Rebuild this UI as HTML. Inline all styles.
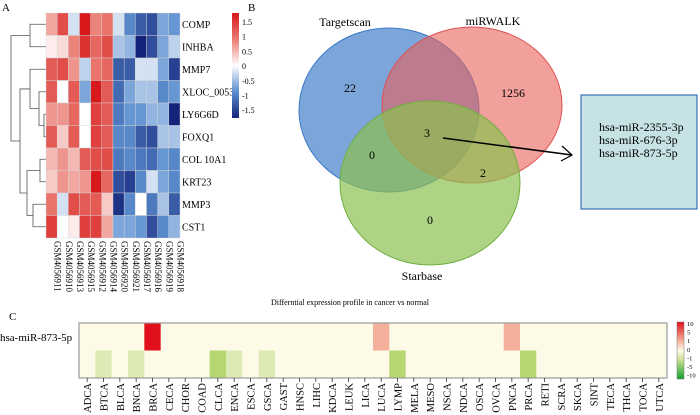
<!DOCTYPE html>
<html><head><meta charset="utf-8">
<style>
html,body{margin:0;padding:0;background:#fff;}
svg{display:block;font-family:"Liberation Serif",serif;}
</style></head>
<body>
<svg id="fig" width="700" height="415" viewBox="0 0 700 415">
<defs>
<linearGradient id="gA" x1="0" y1="0" x2="0" y2="1">
<stop offset="0" stop-color="#d7191c"/><stop offset="0.25" stop-color="#ea7a70"/><stop offset="0.5" stop-color="#ffffff"/><stop offset="0.75" stop-color="#5b8fd0"/><stop offset="1" stop-color="#14237a"/>
</linearGradient>
<linearGradient id="gC" x1="0" y1="0" x2="0" y2="1">
<stop offset="0" stop-color="#e0101c"/><stop offset="0.33" stop-color="#f4b09a"/><stop offset="0.5" stop-color="#fdfbe8"/><stop offset="0.67" stop-color="#c8e090"/><stop offset="1" stop-color="#10a030"/>
</linearGradient>
</defs>
<g id="panelA">
<text x="2" y="11" font-size="11">A</text>
<g id="dendro" stroke="#555" stroke-width="0.8" fill="none"></g>
<g id="cellsA"></g>
<g id="rowLabelsA"></g>
<g id="colLabelsA"></g>
<rect x="232" y="13" width="7" height="105" fill="url(#gA)"/>
<g id="scaleA" font-size="8"></g>
</g>
<g id="panelB">
<text x="248" y="11" font-size="11">B</text>
<ellipse cx="389" cy="110" rx="90" ry="82" fill="#5b8fd0" fill-opacity="0.8" stroke="#3a7ac8"/>
<ellipse cx="472" cy="105" rx="90" ry="78" fill="#e8605a" fill-opacity="0.6" stroke="#e05050"/>
<ellipse cx="430" cy="183" rx="90" ry="82" fill="#8cc050" fill-opacity="0.7" stroke="#70b040"/>
<g font-size="12" text-anchor="middle">
<text x="345" y="26">Targetscan</text>
<text x="493" y="25">miRWALK</text>
<text x="422" y="280">Starbase</text>
<text x="350" y="92">22</text>
<text x="513" y="97">1256</text>
<text x="427" y="137">3</text>
<text x="372" y="159">0</text>
<text x="483" y="177">2</text>
<text x="430" y="224">0</text>
</g>
<line x1="443" y1="138" x2="572" y2="155" stroke="#000" stroke-width="1.5"/>
<polyline points="562,146 572,155 561,161" fill="none" stroke="#000" stroke-width="1.2"/>
<rect x="581" y="95" width="116" height="114" fill="#c6e2e4" stroke="#3a70b8" stroke-width="1.2"/>
<g font-size="12">
<text x="599" y="131">hsa-miR-2355-3p</text>
<text x="599" y="144">hsa-miR-676-3p</text>
<text x="599" y="157">hsa-miR-873-5p</text>
</g>
</g>
<g id="panelC">
<text x="9" y="320" font-size="11">C</text>
<text x="350" y="305" font-size="8" text-anchor="middle">Differntial expression profile in cancer vs normal</text>
<text x="0" y="341" font-size="11">hsa-miR-873-5p</text>
<rect x="79" y="323" width="588" height="55" fill="#fdfbe8"/>
<g id="cellsC"></g>
<rect x="79" y="323" width="588" height="55" fill="none" stroke="#999" stroke-width="1.2"/>
<g id="colLabelsC" font-size="10.5"></g>
<rect x="677" y="322" width="7" height="57" fill="url(#gC)" stroke="#777" stroke-width="0.5"/>
<g id="scaleC" font-size="6.5"></g>
</g>
</svg>
<script>
const NS="http://www.w3.org/2000/svg";
const genes=["COMP","INHBA","MMP7","XLOC_00534","LY6G6D","FOXQ1","COL 10A1","KRT23","MMP3","CST1"];
const samples=["GSM4056911","GSM4056910","GSM4056913","GSM4056915","GSM4056912","GSM4056914","GSM4056920","GSM4056921","GSM4056917","GSM4056916","GSM4056919","GSM4056918"];
const exprA=[
[0.5,1.1,-0.2,1.5,0.7,0.8,-0.2,-0.8,-1.1,-1.2,-0.6,-0.7],
[0.1,0.2,0.7,1.3,0.9,1.1,-0.4,-0.5,-1.6,-1.2,-0.6,-0.3],
[1.0,1.1,0.6,-0.3,0.8,0.9,-1.1,-1.1,-0.2,-0.2,-0.6,-1.3],
[1.0,0.0,1.0,-0.6,1.5,1.0,-1.0,-0.6,-0.4,-0.4,-0.8,-0.7],
[0.6,0.6,0.9,0.0,1.2,1.0,-0.9,-0.7,-0.7,-0.5,-0.5,-1.5],
[1.0,0.3,1.0,0.0,1.2,1.0,-0.8,-0.8,-1.1,-1.2,-0.4,-0.4],
[0.4,0.6,0.4,1.0,1.1,1.1,-0.9,-0.8,-0.9,-1.0,-0.7,-0.8],
[0.3,0.6,0.5,0.6,1.5,0.9,-1.2,-1.3,-0.8,-0.2,-0.6,-0.8],
[0.8,-0.2,1.1,1.0,1.0,0.3,-1.4,-0.8,0.0,-0.9,-0.4,-1.1],
[1.2,0.0,0.1,1.2,1.2,0.5,-0.6,-0.6,-0.7,-1.2,-0.8,-0.5]];
const scaleTicksA=["1.5","1","0.5","0","-0.5","-1","-1.5"];
const cancers=["ADCA","BTCA","BLCA","BNCA","BRCA","CECA","CHOR","COAD","CLCA","ENCA","ESCA","GSCA","GAST","HNSC","LIHC","KDCA","LEUK","LICA","LUCA","LYMP","MELA","MESO","NSCA","NDCA","OSCA","OVCA","PNCA","PRCA","RETI","SCRA","SKCA","SINT","TECA","THCA","TOCA","UTCA"];
const row1=[0,0,0,0,10,0,0,0,0,0,0,0,0,0,0,0,0,0,2,0,0,0,0,0,0,0,2,0,0,0,0,0,0,0,0,0];
const row2=[0,-1,0,-1,0,0,0,0,-3,-1,0,-1,0,0,0,0,0,0,0,-3,0,0,0,0,0,0,0,-3,0,0,0,0,0,0,0,0];
const scaleTicksC=["10","5","1","0","-1","-5","-10"];

function mk(tag,attrs,parent){const e=document.createElementNS(NS,tag);for(const k in attrs)e.setAttribute(k,attrs[k]);parent.appendChild(e);return e;}
function lerp(a,b,t){return a.map((v,i)=>Math.round(v+(b[i]-v)*t));}
function colA(v){
  const stops=[[-1.5,[20,35,122]],[-0.75,[91,143,208]],[0,[255,255,255]],[0.75,[234,122,112]],[1.5,[215,25,28]]];
  v=Math.max(-1.5,Math.min(1.5,v));
  for(let i=0;i<stops.length-1;i++){if(v<=stops[i+1][0]){const t=(v-stops[i][0])/(stops[i+1][0]-stops[i][0]);return "rgb("+lerp(stops[i][1],stops[i+1][1],t)+")";}}
  return "rgb(215,25,28)";
}
function colC(v){
  if(v>=10) return "#e0101c";
  if(v>0) return "#f4b09a";
  if(v<=-3) return "#b5d670";
  if(v<0) return "#dcebb4";
  return "#fdfbe8";
}
const ax0=46, ay0=13, cw=(180-46)/samples.length, rh=(238-13)/genes.length;
const xA=i=>ax0+i*cw, yA=j=>ay0+j*rh;
const cellsA=document.getElementById('cellsA');
exprA.forEach((row,j)=>row.forEach((v,i)=>{
  const r=mk('rect',{x:xA(i),y:yA(j),width:cw,height:rh,fill:colA(v),stroke:"#d8d8d8","stroke-width":0.4},cellsA);
  
  
}));
const rl=document.getElementById('rowLabelsA');
genes.forEach((g,j)=>{const t=mk('text',{x:182,y:yA(j)+rh/2+3.5,"font-size":10},rl);t.textContent=g;
  
  });
const cl=document.getElementById('colLabelsA');
samples.forEach((s,i)=>{const x=xA(i)+cw/2+3;const t=mk('text',{x:x,y:241,"font-size":9,transform:"rotate(90 "+x+" 241)"},cl);t.textContent=s;
  
  });
const sa=document.getElementById('scaleA');
scaleTicksA.forEach((s,k)=>{const t=mk('text',{x:242,y:25+k*14.7},sa);t.textContent=s;
  
  });
const dg=document.getElementById('dendro');
const yc=j=>yA(j)+rh/2;
function link(x,y1,y2,x1,x2){mk('path',{d:"M"+x1+" "+y1+"H"+x+"V"+y2+"H"+x2},dg);}
link(44,yc(4),yc(5),46,46); const lf=(yc(4)+yc(5))/2;
link(39,yc(3),lf,46,44); const lx=(yc(3)+lf)/2;
link(30,yc(2),lx,46,39); const lm=(yc(2)+lx)/2;
link(40,yc(6),yc(7),46,46); const lk=(yc(6)+yc(7))/2;
link(33,yc(8),yc(9),46,46); const lc=(yc(8)+yc(9))/2;
link(27,lk,lc,40,33); const lb=(lk+lc)/2;
link(20,lm,lb,30,27); const lg=(lm+lb)/2;
link(30,yc(0),yc(1),46,46); const lt=(yc(0)+yc(1))/2;
link(11,lt,lg,30,20);
const cx0=79, ccw=588/cancers.length, cy0=323, crh=27.5;
const xC=i=>cx0+i*ccw;
const cellsC=document.getElementById('cellsC');
[row1,row2].forEach((row,j)=>row.forEach((v,i)=>{
  if(v===0) return;
  const r=mk('rect',{x:xC(i),y:cy0+j*crh,width:ccw,height:crh,fill:colC(v)},cellsC);
  
  
}));
const clc=document.getElementById('colLabelsC');
cancers.forEach((c,i)=>{const x=xC(i)+ccw/2;
  mk('line',{x1:x,y1:378,x2:x,y2:382,stroke:"#333","stroke-width":0.8},clc);
  const t=mk('text',{x:x+4,y:383,"text-anchor":"end",transform:"rotate(-90 "+(x+4)+" 383)"},clc);t.textContent=c;
  
  });
const sc=document.getElementById('scaleC');
scaleTicksC.forEach((s,k)=>{const t=mk('text',{x:687,y:326+k*8.6},sc);t.textContent=s;
  
  });
</script>
</body></html>
